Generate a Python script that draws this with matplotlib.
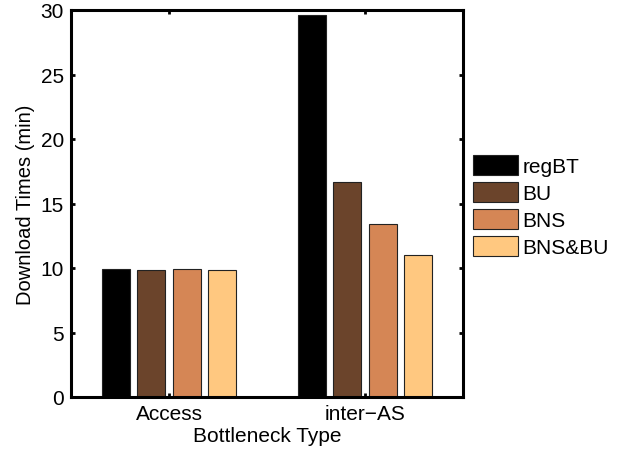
import matplotlib
matplotlib.use("Agg")
import matplotlib.pyplot as plt
import numpy as np

plt.rcParams['font.family'] = ['Liberation Sans', 'DejaVu Sans']

categories = ["Access", "inter\u2212AS"]
series_names = ["regBT", "BU", "BNS", "BNS&BU"]
regBT = [9.92, 29.6]
BU = [9.82, 16.69]
BNS = [9.90, 13.41]
BNS_BU = [9.83, 11.03]
values = [regBT, BU, BNS, BNS_BU]
colors = ["#000000", "#6B442B", "#D58655", "#FFC880"]
yticks = [0, 5, 10, 15, 20, 25, 30]

FS = 15

fig = plt.figure(figsize=(6.23, 4.52), dpi=100)
ax = fig.add_axes([71 / 623, 1 - 398 / 452, (463 - 71) / 623, (398 - 11) / 452])

x = np.arange(1, len(categories) + 1)
n = len(series_names)
step = 0.18
width = step * 0.8
for i, (name, vals, c) in enumerate(zip(series_names, values, colors)):
    off = (i - (n - 1) / 2) * step
    ax.bar(x + off, vals, width=width, color=c, edgecolor="#222222",
           linewidth=0.8, label=name, zorder=2)

ax.set_xlim(0.5, 2.5)
ax.set_ylim(0, 30)
ax.set_xticks(x)
ax.set_xticklabels(categories)
ax.set_yticks(yticks)
ax.tick_params(direction="in", length=3, width=2, labelsize=FS,
               top=True, right=True, pad=5)
for s in ax.spines.values():
    s.set_linewidth(2.2)
    s.set_zorder(3)

ax.set_ylabel("Download Times (min)", fontsize=FS - 0.5, labelpad=4)
ax.set_xlabel("Bottleneck Type", fontsize=FS, labelpad=2)

ax.legend(loc="upper left", bbox_to_anchor=(473 / 623, 1 - 156 / 452),
          bbox_transform=fig.transFigure, frameon=False,
          fontsize=FS, handlelength=2.16, handleheight=1.1,
          handletextpad=0.2, labelspacing=0.28, borderpad=0,
          borderaxespad=0)

fig.savefig("out.png", dpi=100)
